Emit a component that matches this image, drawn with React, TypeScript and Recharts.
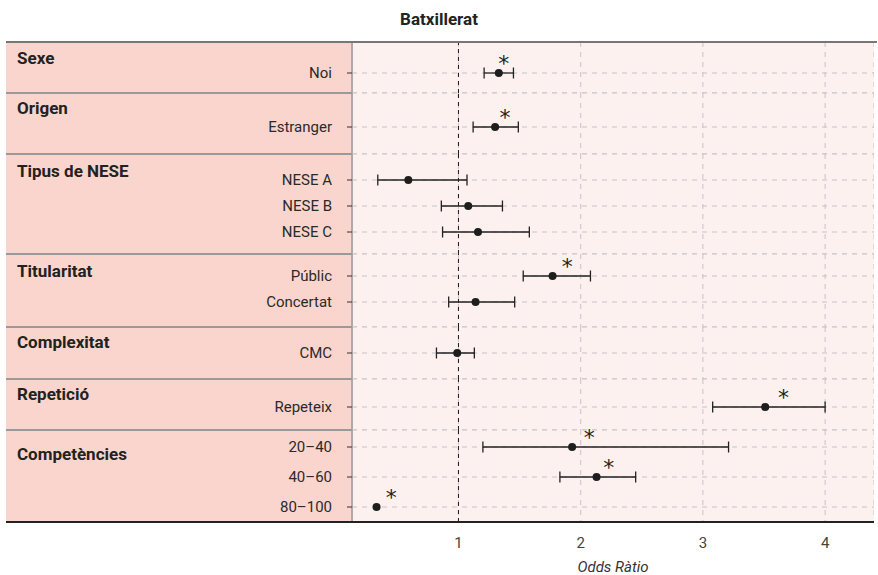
import React from "react";
import { ScatterChart, Scatter, XAxis, YAxis, CartesianGrid, ErrorBar, ReferenceLine, Label } from "recharts";

const groups = ["Sexe", "Origen", "Tipus de NESE", "Titularitat", "Complexitat", "Repetició", "Competències"];
const labels = ["Noi", "Estranger", "NESE A", "NESE B", "NESE C", "Públic", "Concertat", "CMC", "Repeteix", "20–40", "40–60", "80–100"];
const groupOf = [0, 1, 2, 2, 2, 3, 3, 4, 5, 6, 6, 6];
const oddsRatio = [1.33, 1.3, 0.59, 1.08, 1.16, 1.77, 1.14, 0.99, 3.51, 1.93, 2.13, 0.33];
const ciLow = [1.21, 1.12, 0.34, 0.86, 0.87, 1.53, 0.92, 0.82, 3.08, 1.2, 1.83, null];
const ciHigh = [1.45, 1.49, 1.07, 1.36, 1.58, 2.08, 1.46, 1.13, 4.0, 3.21, 2.45, null];
const starAt = [1.37, 1.38, null, null, null, 1.89, null, null, 3.66, 2.07, 2.23, 0.45];
const xTicks = [1, 2, 3, 4];

const FONT = "Roboto, sans-serif";
const PANEL = "#fad5cd";
const PLOT_BG = "#fcf1ef";
const X_DOMAIN = [0.129, 4.4];
const HEADROOM = 14; // room above each facet so the stars are not clipped

// facet boxes: top, height, y padding, group label baseline
const FACETS = [
	{ top: 42, h: 51, pt: 11, pb: 0, ly: 22 },
	{ top: 93, h: 61, pt: 7, pb: 0, ly: 21 },
	{ top: 154, h: 100, pt: 13, pb: 9, ly: 23 },
	{ top: 254, h: 73, pt: 9, pb: 12, ly: 23 },
	{ top: 327, h: 52, pt: 0, pb: 0, ly: 21 },
	{ top: 379, h: 51, pt: 5, pb: 0, ly: 21 },
	{ top: 430, h: 92, pt: 2, pb: 0, ly: 30 },
];

const rows = labels.map((label, i) => ({
	label,
	group: groupOf[i],
	or: oddsRatio[i],
	err: ciLow[i] == null ? null : [oddsRatio[i] - (ciLow[i] as number), (ciHigh[i] as number) - oddsRatio[i]],
	star: starAt[i],
}));

const Dot = (p: any) => <circle cx={p.cx} cy={p.cy} r={4} fill="#1e1e1e" />;

const Star = (p: any) => (
	<text x={p.cx} y={p.cy - 2.5} textAnchor="middle" fontSize={22} fill="#222" fontFamily="DejaVu Sans">
		*
	</text>
);

function Facet({ gi }: { gi: number }) {
	const f = FACETS[gi];
	const last = gi === FACETS.length - 1;
	const data = rows.filter((r) => r.group === gi);
	const stars = data.filter((r) => r.star != null);
	const axisH = last ? 53 : 0;
	return (
		<div style={{ position: "absolute", left: 6, top: f.top - HEADROOM }}>
			<ScatterChart width={868} height={f.h + axisH + HEADROOM} margin={{ top: HEADROOM, right: 0, bottom: 0, left: 0 }}>
				<CartesianGrid xAxisId="or" stroke="#c4c4c4" strokeDasharray="5 5" fill={PLOT_BG} fillOpacity={1} />
				<XAxis
					xAxisId="or"
					type="number"
					dataKey="or"
					domain={X_DOMAIN}
					allowDataOverflow
					ticks={xTicks}
					hide={!last}
					height={axisH}
					axisLine={false}
					tickLine={false}
					tickSize={0}
					tickMargin={15}
					tick={{ fontSize: 15, fill: "#444", fontFamily: FONT }}
				>
					{last && (
						<Label value="Odds Ràtio" position="insideBottom" offset={3} fill="#333" style={{ fontStyle: "italic", fontSize: 15, fontFamily: FONT }} />
					)}
				</XAxis>
				<XAxis xAxisId="st" type="number" dataKey="star" domain={X_DOMAIN} allowDataOverflow hide />
				<YAxis
					type="category"
					dataKey="label"
					scale="band"
					reversed
					width={346}
					allowDuplicatedCategory={false}
					interval={0}
					padding={{ top: f.pt, bottom: f.pb }}
					tickSize={5}
					tickMargin={15}
					tick={{ fontSize: 15, fill: "#2a2a2a", fontFamily: FONT }}
					tickLine={{ stroke: "#333" }}
					axisLine={{ stroke: "#aaa", strokeWidth: 2 }}
				>
					<Label
						content={(p: any) => (
							<text x={p.viewBox.x + 11} y={p.viewBox.y + f.ly} fontSize={17} fontWeight={700} fill="#222" fontFamily={FONT}>
								{groups[gi]}
							</text>
						)}
					/>
				</YAxis>
				<ReferenceLine xAxisId="or" x={1} stroke="#1a1a1a" strokeDasharray="4 4" />
				<Scatter xAxisId="or" data={data} shape={Dot} isAnimationActive={false}>
					<ErrorBar dataKey="err" direction="x" width={5.5} stroke="#222" strokeWidth={1.3} isAnimationActive={false} />
				</Scatter>
				<Scatter xAxisId="st" data={stars} shape={Star} isAnimationActive={false} />
			</ScatterChart>
		</div>
	);
}

export default function App() {
	return (
		<div style={{ position: "absolute", left: 0, top: 0, width: 878, height: 575, background: "#fff", fontFamily: FONT }}>
			<div
				style={{ position: "absolute", left: 0, top: 11, width: 878, textAlign: "center", fontSize: 17, lineHeight: "17px", fontWeight: 700, color: "#222" }}
			>
				Batxillerat
			</div>
			<div style={{ position: "absolute", left: 6, top: 42, width: 346, height: 480, background: PANEL }} />
			{FACETS.map((_, gi) => (
				<Facet key={gi} gi={gi} />
			))}
			{FACETS.slice(1).map((f, i) => (
				<div key={i} style={{ position: "absolute", left: 6, top: f.top - 1, width: 346, height: 1.5, background: "#9a9a9a" }} />
			))}
			<div style={{ position: "absolute", left: 6, top: 41, width: 871, height: 1.8, background: "#777" }} />
			<div style={{ position: "absolute", left: 6, top: 521, width: 868, height: 1.8, background: "#222" }} />
		</div>
	);
}
